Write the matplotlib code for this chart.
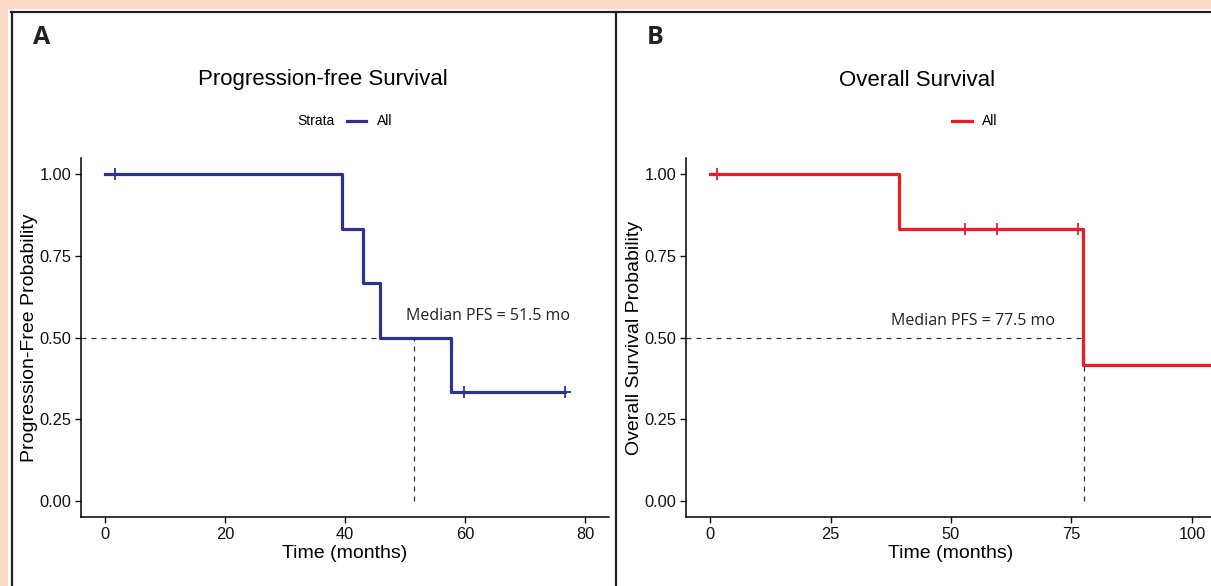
import matplotlib.pyplot as plt
from matplotlib.patches import Rectangle
from matplotlib.lines import Line2D

# Kaplan-Meier data (months, survival probability)
pfs_time = [0, 39.5, 43.0, 45.8, 57.7, 76.7]
pfs_surv = [1.0, 0.833, 0.667, 0.5, 0.333, 0.333]
pfs_cens_time = [1.7, 59.8, 76.7]
pfs_cens_surv = [1.0, 0.333, 0.333]
pfs_median = 51.5

os_time = [0, 39.2, 77.4, 105]
os_surv = [1.0, 0.833, 0.417, 0.417]
os_cens_time = [1.5, 52.9, 59.5, 76.3]
os_cens_surv = [1.0, 0.833, 0.833, 0.833]
os_median = 77.5

y_ticks = [0.0, 0.25, 0.5, 0.75, 1.0]
y_ticklabels = ["0.00", "0.25", "0.50", "0.75", "1.00"]
pfs_xticks = [0, 20, 40, 60, 80]
os_xticks = [0, 25, 50, 75, 100]

W, H = 1211, 586
blue = "#2e3192"
red = "#ed1c24"
sans = "Liberation Sans"
humanist = "Open Sans"

fig = plt.figure(figsize=(W / 100, H / 100), dpi=100)
fig.patch.set_facecolor("#fcd9c5")

# white panel area with dark frame
fig.add_artist(Rectangle((8 / W, 0), 1, 1 - 9 / H, transform=fig.transFigure,
                         facecolor="white", edgecolor="none", zorder=-1))
frame = dict(color="#222222", lw=1.6, transform=fig.transFigure)
fig.add_artist(Line2D([11.5 / W, 11.5 / W], [0, 1 - 12 / H], **frame))
fig.add_artist(Line2D([11 / W, 1], [1 - 12 / H, 1 - 12 / H], **frame))
fig.add_artist(Line2D([616 / W, 616 / W], [0, 1 - 12 / H], **frame))


def km_panel(ax, t, s, ct, cs, med, color, xlim, xticks, ylabel, note, note_x, note_y):
    ax.step(t, s, where="post", color=color, lw=2.3, zorder=3)
    ax.plot(ct, cs, ls="none", marker="+", ms=9, mew=1.3, color=color, zorder=4)
    ax.hlines(0.5, xlim[0], med, colors="#333333", lw=0.9, linestyles=(0, (4, 4)))
    ax.vlines(med, 0, 0.5, colors="#333333", lw=0.9, linestyles=(0, (4, 4)))
    ax.set_xlim(xlim)
    ax.set_ylim(-0.05, 1.05)
    ax.set_xticks(xticks)
    ax.set_yticks(y_ticks)
    ax.set_yticklabels(y_ticklabels)
    for sp in ["top", "right"]:
        ax.spines[sp].set_visible(False)
    for sp in ["left", "bottom"]:
        ax.spines[sp].set_linewidth(1.1)
    ax.tick_params(length=4, width=1.0, labelsize=11.8, colors="#111111", pad=3)
    for lab in ax.get_xticklabels() + ax.get_yticklabels():
        lab.set_fontfamily(sans)
    ax.set_xlabel("Time (months)", fontsize=14, family=sans, labelpad=2)
    ax.set_ylabel(ylabel, fontsize=14, family=sans, labelpad=1)
    ax.text(note_x, note_y, note, ha="center", va="center",
            fontsize=11.5, family=humanist, color="#222222")


ax1 = fig.add_axes([81 / W, 69 / H, 528 / W, 359 / H])
km_panel(ax1, pfs_time, pfs_surv, pfs_cens_time, pfs_cens_surv, pfs_median,
         blue, (-4, 84), pfs_xticks, "Progression-Free Probability",
         "Median PFS = 51.5 mo", 63.8, 0.567)

ax2 = fig.add_axes([686 / W, 69 / H, 530 / W, 359 / H])
km_panel(ax2, os_time, os_surv, os_cens_time, os_cens_surv, os_median,
         red, (-5, 105), os_xticks, "Overall Survival Probability",
         "Median PFS = 77.5 mo", 54.6, 0.55)

# titles
fig.text(323 / W, 1 - 80 / H, "Progression-free Survival", ha="center", va="center",
         fontsize=16, family=sans)
fig.text(917 / W, 1 - 80 / H, "Overall Survival", ha="center", va="center",
         fontsize=16, family=sans)

# legends
ly = 1 - 121 / H
fig.text(316 / W, ly, "Strata", ha="center", va="center", fontsize=10, family=sans)
fig.add_artist(Line2D([347 / W, 366 / W], [ly, ly], color=blue, lw=2.3,
                      transform=fig.transFigure))
fig.text(377 / W, ly, "All", ha="left", va="center", fontsize=10, family=sans)
fig.add_artist(Line2D([952 / W, 972 / W], [ly, ly], color=red, lw=2.3,
                      transform=fig.transFigure))
fig.text(982 / W, ly, "All", ha="left", va="center", fontsize=10, family=sans)

# panel letters
fig.text(42 / W, 1 - 38 / H, "A", ha="center", va="center", fontsize=18,
         fontweight="bold", family=humanist, color="#222222")
fig.text(655 / W, 1 - 38 / H, "B", ha="center", va="center", fontsize=18,
         fontweight="bold", family=humanist, color="#222222")

fig.savefig("out.png", dpi=100)
